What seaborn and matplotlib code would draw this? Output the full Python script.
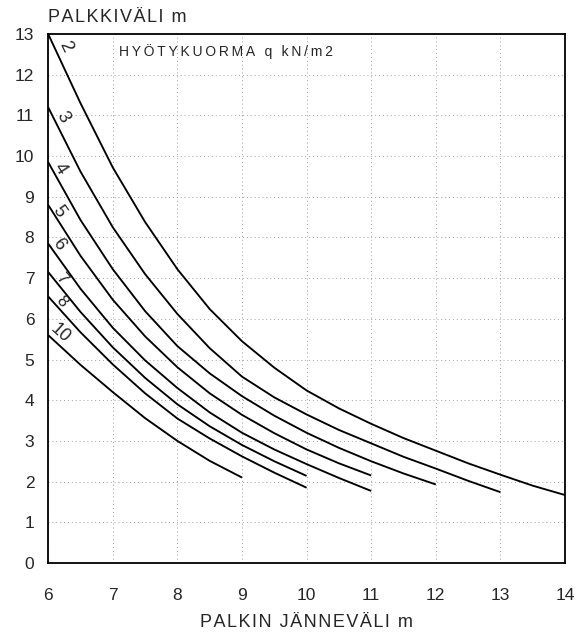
import matplotlib
matplotlib.use('Agg')
import matplotlib.pyplot as plt
import pandas as pd
import seaborn as sns

# --- data (span m -> beam spacing m), step 0.5 m ---
span_q2 = [6, 6.5, 7, 7.5, 8, 8.5, 9, 9.5, 10, 10.5, 11, 11.5, 12, 12.5, 13, 13.5, 14]
spacing_q2 = [13.0, 11.3, 9.72, 8.38, 7.22, 6.24, 5.45, 4.8, 4.24, 3.8, 3.42, 3.07, 2.76, 2.45, 2.17, 1.9, 1.67]

span_q3 = [6, 6.5, 7, 7.5, 8, 8.5, 9, 9.5, 10, 10.5, 11, 11.5, 12, 12.5, 13]
spacing_q3 = [11.2, 9.62, 8.25, 7.1, 6.12, 5.28, 4.58, 4.07, 3.65, 3.27, 2.94, 2.61, 2.32, 2.02, 1.74]

span_q4 = [6, 6.5, 7, 7.5, 8, 8.5, 9, 9.5, 10, 10.5, 11, 11.5, 12]
spacing_q4 = [9.85, 8.43, 7.22, 6.19, 5.33, 4.66, 4.1, 3.62, 3.2, 2.83, 2.5, 2.2, 1.93]

span_q5 = [6, 6.5, 7, 7.5, 8, 8.5, 9, 9.5, 10, 10.5, 11]
spacing_q5 = [8.8, 7.55, 6.47, 5.57, 4.81, 4.17, 3.64, 3.19, 2.79, 2.45, 2.15]

span_q6 = [6, 6.5, 7, 7.5, 8, 8.5, 9, 9.5, 10, 10.5, 11]
spacing_q6 = [7.85, 6.74, 5.78, 4.98, 4.3, 3.7, 3.2, 2.79, 2.43, 2.09, 1.77]

span_q7 = [6, 6.5, 7, 7.5, 8, 8.5, 9, 9.5, 10]
spacing_q7 = [7.15, 6.17, 5.3, 4.55, 3.9, 3.36, 2.9, 2.5, 2.14]

span_q8 = [6, 6.5, 7, 7.5, 8, 8.5, 9, 9.5, 10]
spacing_q8 = [6.55, 5.67, 4.88, 4.17, 3.55, 3.06, 2.62, 2.22, 1.85]

span_q10 = [6, 6.5, 7, 7.5, 8, 8.5, 9]
spacing_q10 = [5.6, 4.87, 4.2, 3.56, 3.0, 2.51, 2.1]

loads = ['2', '3', '4', '5', '6', '7', '8', '10']
spans = [span_q2, span_q3, span_q4, span_q5, span_q6, span_q7, span_q8, span_q10]
spacings = [spacing_q2, spacing_q3, spacing_q4, spacing_q5, spacing_q6, spacing_q7, spacing_q8, spacing_q10]

# curve label positions and rotations (near the left end of each curve)
label_x = [6.26, 6.23, 6.18, 6.16, 6.17, 6.21, 6.21, 6.19]
label_y = [12.69, 10.97, 9.70, 8.63, 7.84, 7.0, 6.42, 5.64]
label_rot = [-64, -60, -57, -55, -53, -50, -48, -42]
label_size = [13, 13, 13, 13, 13, 12, 12, 13]

x_ticks = list(range(6, 15))
y_ticks = list(range(0, 14))

rows = []
for q, xs, ys in zip(loads, spans, spacings):
    for x, y in zip(xs, ys):
        rows.append({'q': q, 'span': x, 'spacing': y})
df = pd.DataFrame(rows)

sns.set_style('white')
plt.rcParams['font.family'] = ['Liberation Sans', 'DejaVu Sans']


def spaced(s, sep='\u200a'):
    return sep.join(s)


fig = plt.figure(figsize=(5.84, 6.36), dpi=100)
ax = fig.add_axes([0.0825, 0.1148, 0.885, 0.8317])

line_kw = dict(solid_joinstyle='round', solid_capstyle='butt')
sns.lineplot(data=df, x='span', y='spacing', units='q', estimator=None,
             color='black', linewidth=1.35, ax=ax, sort=False, **line_kw)

ax.set_xlim(6, 14)
ax.set_ylim(0, 13)
ax.set_xticks(x_ticks)
ax.set_yticks(y_ticks)
ax.set_xlabel('')
ax.set_ylabel('')
ax.grid(True, color='#a0a0a0', linestyle=(0, (1, 3)), linewidth=0.7)
ax.set_axisbelow(True)

for sp in ax.spines.values():
    sp.set_color('black')
    sp.set_linewidth(1.3)
    sp.set_visible(True)

ax.tick_params(axis='both', direction='out', length=5, width=1, color='black')
ax.tick_params(axis='y', labelsize=12.5, pad=5)
ax.tick_params(axis='x', labelsize=12.5, pad=13)

for t, x, y, r, s in zip(loads, label_x, label_y, label_rot, label_size):
    ax.text(x, y, t, rotation=r, fontsize=s, ha='center', va='center',
            rotation_mode='anchor')

ax.text(7.1, 12.56, spaced('HYÖTYKUORMA q kN/m2', '\u2009'), fontsize=10,
        ha='left', va='center')

fig.text(0.083, 0.973, spaced('PALKKIVÄLI m'), fontsize=13, ha='left', va='center')
fig.text(0.524, 0.022, spaced('PALKIN JÄNNEVÄLI m'), fontsize=13, ha='center', va='center')

fig.savefig('out.png', dpi=100, facecolor='white')
